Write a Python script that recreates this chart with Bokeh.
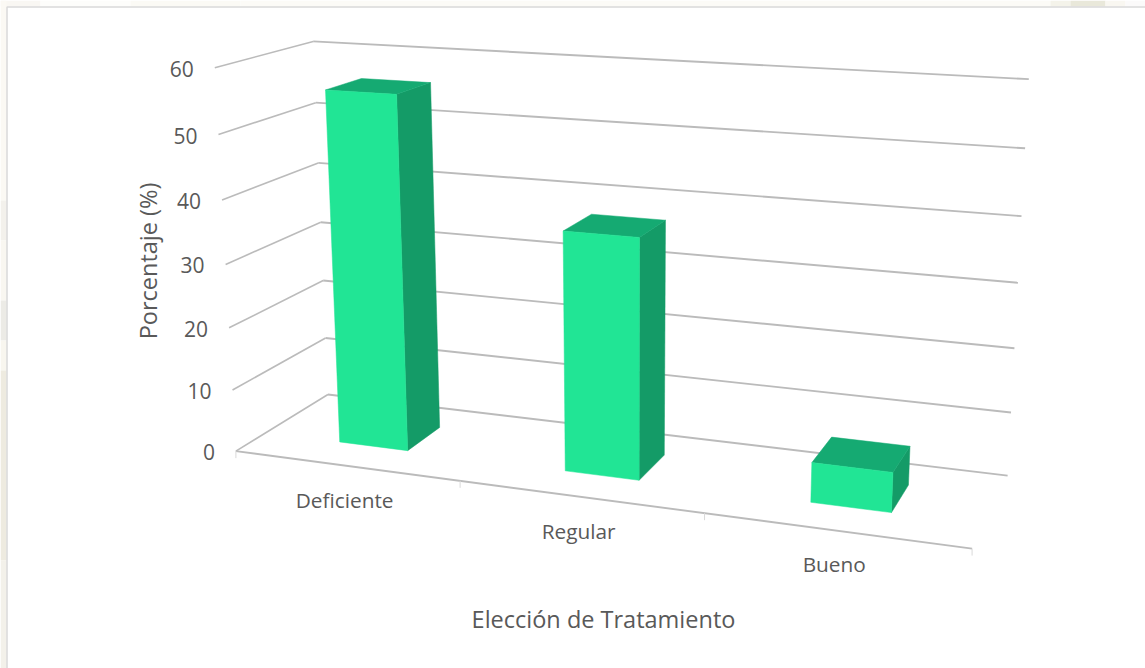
import numpy as np
from bokeh.plotting import figure
from bokeh.embed import file_html
from bokeh.resources import INLINE
from bokeh.core.properties import value

# chart content
categories = ["Deficiente", "Regular", "Bueno"]
percentages = [56.0, 37.3, 6.1]
tick_values = [0, 10, 20, 30, 40, 50, 60]
x_title = "Elección de Tratamiento"
y_title = "Porcentaje (%)"

# box proportions, in units of one category and of the floor depth
BAR_WIDTH = 0.31
DEPTH_FRONT, DEPTH_BACK = 0.31, 0.70

# camera calibration: (category, depth, value) -> canvas pixel
CALIBRATION = [
    ((0, 0, 0), (236, 450)), ((1, 0, 0), (460, 480)), ((2, 0, 0), (703, 516)),
    ((3, 0, 0), (972, 546)), ((0, 1, 0), (327, 394)), ((3, 1, 0), (1007, 475)),
    ((0, 1, 60), (313, 41)), ((3, 1, 60), (1028, 79)), ((0, 0, 60), (214, 67)),
    ((0, 0, 30), (225, 264)), ((3, 1, 30), (1018, 282)),
]

# tinted strips of the page showing outside the chart frame
top_strip_edges = [0, 40, 130, 240, 1050, 1070, 1105, 1125, 1145]
top_strip_colors = ["#f9f7f3", "#fdfdfb", "#fbfaf5", "#fcfbf7", "#f4f3ea", "#e9e8da", "#f9f7f1", "#fbfafa"]
left_strip_edges = [0, 200, 240, 300, 340, 370, 560, 668]
left_strip_colors = ["#fbf9f4", "#f3f1ec", "#f9f7f1", "#ecebe6", "#f8f6ef", "#eeebe0", "#f3f1ea"]


def fit_camera(pairs):
    rows, rhs = [], []
    for (a, b, c), (u, v) in pairs:
        rows.append([a, b, c, 1, 0, 0, 0, 0, -u * a, -u * b, -u * c])
        rows.append([0, 0, 0, 0, a, b, c, 1, -v * a, -v * b, -v * c])
        rhs += [u, v]
    sol = np.linalg.lstsq(np.array(rows, float), np.array(rhs, float), rcond=None)[0]
    return np.append(sol, 1.0).reshape(3, 4)


CAM = fit_camera(CALIBRATION)


def project(a, b, c):
    h = CAM @ np.array([a, b, c, 1.0])
    return h[0] / h[2], h[1] / h[2]


def segment(p, q):
    pa, pb = project(*p), project(*q)
    return [pa[0], pb[0]], [pa[1], pb[1]]


p = figure(width=1145, height=668, x_range=(0, 1145), y_range=(668, 0),
           output_backend="svg", toolbar_location=None, min_border=0,
           outline_line_color=None, background_fill_color="white",
           border_fill_color="white")
p.axis.visible = False
p.grid.visible = False

# page edge around the chart frame
p.quad(left=top_strip_edges[:-1], right=top_strip_edges[1:], top=0, bottom=6,
       fill_color=top_strip_colors, line_color=None)
p.quad(left=0, right=6, top=left_strip_edges[:-1], bottom=left_strip_edges[1:],
       fill_color=left_strip_colors, line_color=None)
p.line([6.5, 6.5, 1145], [668, 6.5, 6.5], line_color="#d9d9d9", line_width=1.5)

GRID = "#bbbbbb"
TEXT = "#595959"
n = len(categories)
for t in tick_values:
    xs, ys = segment((0, 0, t), (0, 1, t))
    p.line(xs, ys, line_color=GRID, line_width=1.6)
    xs, ys = segment((0, 1, t), (n, 1, t))
    p.line(xs, ys, line_color=GRID, line_width=1.9)
    fx, fy = project(0, 0, t)
    p.text([fx - 21], [fy + 1], text=[str(t)], text_align="right", text_baseline="middle",
           text_font=value("Open Sans"), text_font_size="21px", text_color=TEXT)

# floor front edge with its category ticks
xs, ys = segment((0, 0, 0), (n, 0, 0))
p.line(xs, ys, line_color=GRID, line_width=1.9)
for i in range(n + 1):
    fx, fy = project(i, 0, 0)
    p.line([fx, fx], [fy, fy + 7], line_color="#d9d9d9", line_width=1)

FRONT, SIDE, TOP = "#21e595", "#149b67", "#15aa72"
for i, (name, v) in enumerate(zip(categories, percentages)):
    c = i + 0.5
    l, r = c - BAR_WIDTH / 2, c + BAR_WIDTH / 2
    d0, d1 = DEPTH_FRONT, DEPTH_BACK
    faces = [
        ([(r, d0, 0), (r, d1, 0), (r, d1, v), (r, d0, v)], SIDE),
        ([(l, d0, v), (r, d0, v), (r, d1, v), (l, d1, v)], TOP),
        ([(l, d0, 0), (r, d0, 0), (r, d0, v), (l, d0, v)], FRONT),
    ]
    for corners, color in faces:
        pts = [project(*k) for k in corners]
        p.patch([q[0] for q in pts], [q[1] for q in pts], fill_color=color, line_color=color, line_width=0.5)
    lx, ly = project(c, 0, 0)
    p.text([lx - 1], [ly + 34], text=[name], text_align="center", text_baseline="middle",
           text_font=value("Open Sans"), text_font_size="20.8px", text_color=TEXT)

p.text([603], [618], text=[x_title], text_align="center", text_baseline="middle",
       text_font=value("Open Sans"), text_font_size="23.5px", text_color=TEXT)
p.text([147], [260.5], text=[y_title], angle=[np.pi / 2], text_align="center", text_baseline="middle",
       text_font=value("Open Sans"), text_font_size="23.5px", text_color=TEXT)

open("out.html", "w").write(file_html(p, INLINE))
